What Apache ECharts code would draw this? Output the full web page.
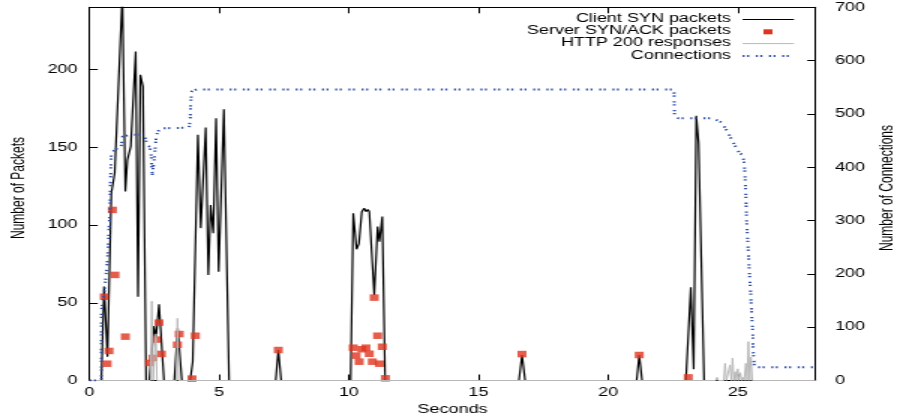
<!DOCTYPE html>
<html><head><meta charset="utf-8">
<script src="https://cdn.jsdelivr.net/npm/echarts@6/dist/echarts.min.js"></script>
<style>
html,body{margin:0;padding:0;background:#fff;overflow:hidden;}
#wrap{width:900px;height:420px;overflow:hidden;}
#chart{width:600px;height:420px;transform:scaleX(1.5);transform-origin:0 0;}
</style></head>
<body><div id="wrap"><div id="chart"></div></div>
<script>
// ---- data (time in seconds) ----
const xTickLabels = [0, 5, 10, 15, 20, 25];
const leftTickLabels = [0, 50, 100, 150, 200];
const rightTickLabels = [0, 100, 200, 300, 400, 500, 600, 700];
const seriesNames = ['Client SYN packets', 'Server SYN/ACK packets', 'HTTP 200 responses', 'Connections'];

const clientSyn = [[0,0],[0.455,0],[0.56,60.4],[0.69,15.3],[0.84,120.4],[0.97,133.3],[1.265,248],[1.38,121.5],[1.46,141.9],[1.59,150.5],[1.68,150.5],[1.78,211.6],[1.87,53.9],[1.96,196.6],[2.06,189],[2.18,0],[2.3,0],[2.49,35],[2.56,27],[2.68,49],[2.87,0],[3.27,0],[3.40,33.8],[3.56,0],[3.88,0],[3.98,12.1],[4.18,158],[4.29,98],[4.48,162.7],[4.58,67.9],[4.67,112.9],[4.77,94.7],[4.88,168.7],[4.98,70],[5.08,70],[5.18,174.5],[5.38,0],[7.18,0],[7.28,19.6],[7.39,0],[10.07,0],[10.17,107.6],[10.30,84.4],[10.39,88],[10.50,108.6],[10.59,110.8],[10.66,108.6],[10.73,110],[10.79,108.6],[10.98,55],[11.11,99],[11.18,89.3],[11.29,105.4],[11.40,0],[16.56,0],[16.68,16.4],[16.8,0],[21.1,0],[21.2,16.4],[21.31,0],[23.0,0],[23.19,60],[23.30,7.2],[23.40,170.2],[23.49,152.6],[23.70,0],[28,0]];

const serverSynAck = [[0.57,53.9],[0.675,10.8],[0.75,19],[0.88,109.7],[0.98,67.9],[1.38,28.2],[2.32,11.3],[2.45,14.5],[2.58,26.3],[2.68,37.2],[2.77,17.1],[3.39,23],[3.46,29.9],[3.95,1.2],[4.08,28.8],[7.28,19.6],[10.17,21.1],[10.28,16],[10.40,12.1],[10.50,20.1],[10.66,21.1],[10.79,17.2],[10.91,12.1],[10.98,53.3],[11.11,28.8],[11.18,10.8],[11.29,21.7],[11.41,1.4],[16.68,17],[21.2,16.4],[23.09,2]];

const http200 = [[0,0],[2.35,0],[2.40,51],[2.45,0],[2.52,0],[2.56,30],[2.60,0],[3.35,0],[3.39,40],[3.43,0],[24.15,0],[24.2,2],[24.25,0],[24.46,0],[24.51,11],[24.56,0],[24.65,0],[24.7,10],[24.75,0],[24.8,14.5],[24.85,0],[24.9,5.7],[24.95,0],[25.0,7.5],[25.05,0],[25.1,5],[25.15,0],[25.2,2],[25.25,0],[25.31,11],[25.36,0],[25.41,25],[25.46,0],[25.51,15],[25.56,0],[28,0]];

const connections = [[0,0],[0.455,0],[0.455,132],[0.56,160],[0.69,226],[0.78,314],[0.81,382],[0.84,427],[1.07,436],[1.21,436],[1.265,457],[1.55,461],[2.0,461],[2.14,457],[2.21,442],[2.33,438],[2.38,420],[2.42,385.5],[2.49,414],[2.58,461],[2.71,473],[3.68,474],[3.84,474],[3.88,489],[3.9,520],[3.94,542],[4.13,546],[22.54,546],[22.56,495],[22.71,492],[24.0,492],[24.12,490],[24.38,484],[24.6,467],[24.83,446],[25.06,427],[25.19,423],[25.25,407.5],[25.28,382],[25.31,351],[25.34,301],[25.41,239],[25.45,201],[25.5,164],[25.54,120],[25.58,89],[25.6,51],[25.64,25],[28,25]];

// ---- styles ----
const FONT = '"Liberation Sans", Arial, Helvetica, sans-serif';
const BLACK = '#000';
const RED = '#e0341f';
const GRAY = '#b8b8b8';
const BLUE = '#2c4ca8';
const DOTS = [1.3, 1.7, 1.3, 4.5];

const chart = echarts.init(document.getElementById('chart'), null, {renderer: 'canvas'});
const axisLine = {show: true, onZero: false, lineStyle: {color: BLACK, width: 1}};
const lbl = {color: BLACK, fontFamily: FONT, fontSize: 12};

function legendRow(i, y, sample) {
  return [{type: 'text', x: 487.3, y: y, z: 100,
    style: {text: seriesNames[i], font: '12px ' + FONT, fill: BLACK,
      align: 'right', textAlign: 'right', verticalAlign: 'middle', textVerticalAlign: 'middle'}}].concat(sample);
}

const option = {
  animation: false,
  backgroundColor: '#fff',
  grid: {left: 59.7, right: 56.3, top: 7.3, bottom: 39.5, containLabel: false, outerBoundsMode: 'none'},
  xAxis: [
    {type: 'value', min: 0, max: 28, interval: 5, position: 'bottom', axisLine: axisLine,
      axisTick: {show: true, inside: true, length: 6, lineStyle: {color: BLACK}},
      axisLabel: Object.assign({showMaxLabel: false, margin: 6,
        formatter: v => xTickLabels.indexOf(v) >= 0 ? String(v) : ''}, lbl),
      splitLine: {show: false}},
    {type: 'value', min: 0, max: 28, interval: 5, position: 'top', axisLine: axisLine,
      axisTick: {show: true, inside: true, length: 6, lineStyle: {color: BLACK}},
      axisLabel: {show: false}, splitLine: {show: false}}
  ],
  yAxis: [
    {type: 'value', min: 0, max: 240, interval: 50, position: 'left', axisLine: axisLine,
      axisTick: {show: true, inside: true, length: 5.5, lineStyle: {color: BLACK}},
      axisLabel: Object.assign({showMaxLabel: false, margin: 8,
        formatter: v => leftTickLabels.indexOf(v) >= 0 ? String(v) : ''}, lbl),
      splitLine: {show: false}},
    {type: 'value', min: 0, max: 700, interval: 100, position: 'right', axisLine: axisLine,
      axisTick: {show: true, inside: true, length: 5.5, lineStyle: {color: BLACK}},
      axisLabel: Object.assign({margin: 13,
        formatter: v => rightTickLabels.indexOf(v) >= 0 ? String(v) : ''}, lbl),
      splitLine: {show: false}}
  ],
  series: [
    {name: seriesNames[0], type: 'line', data: clientSyn, xAxisIndex: 0, yAxisIndex: 0,
      showSymbol: false, symbol: 'none', clip: true,
      lineStyle: {color: BLACK, width: 1.2}, z: 2},
    {name: seriesNames[1], type: 'scatter', data: serverSynAck, xAxisIndex: 0, yAxisIndex: 0,
      symbol: 'rect', symbolSize: [6, 6.5], itemStyle: {color: RED}, z: 3},
    {name: seriesNames[2], type: 'line', data: http200, xAxisIndex: 0, yAxisIndex: 0,
      showSymbol: false, symbol: 'none', lineStyle: {color: GRAY, width: 1}, z: 4},
    {name: seriesNames[3], type: 'line', data: connections, xAxisIndex: 0, yAxisIndex: 1,
      showSymbol: false, symbol: 'none', lineStyle: {color: BLUE, width: 2, type: DOTS}, z: 5}
  ],
  graphic: [].concat(
    legendRow(0, 18.5, [{type: 'line', z: 100, shape: {x1: 495.1, y1: 19.5, x2: 529.3, y2: 19.5}, style: {stroke: BLACK, lineWidth: 1.2}}]),
    legendRow(1, 30.8, [{type: 'rect', z: 100, shape: {x: 509, y: 29.3, width: 6, height: 5}, style: {fill: RED}}]),
    legendRow(2, 43.1, [{type: 'line', z: 100, shape: {x1: 495.1, y1: 43.6, x2: 529.3, y2: 43.6}, style: {stroke: GRAY, lineWidth: 1}}]),
    legendRow(3, 55.4, [{type: 'line', z: 100, shape: {x1: 495.1, y1: 56, x2: 529.3, y2: 56}, style: {stroke: BLUE, lineWidth: 2, lineDash: DOTS}}]),
    [
      {type: 'text', x: 12.2, y: 188, rotation: Math.PI / 2,
        style: {text: 'Number of Packets', font: '12px ' + FONT, fill: BLACK,
          align: 'center', textAlign: 'center', verticalAlign: 'middle', textVerticalAlign: 'middle'}},
      {type: 'text', x: 592, y: 188, rotation: Math.PI / 2,
        style: {text: 'Number of Connections', font: '12px ' + FONT, fill: BLACK,
          align: 'center', textAlign: 'center', verticalAlign: 'middle', textVerticalAlign: 'middle'}},
      {type: 'text', x: 301.7, y: 410, 
        style: {text: 'Seconds', font: '12px ' + FONT, fill: BLACK,
          align: 'center', textAlign: 'center', verticalAlign: 'middle', textVerticalAlign: 'middle'}}
    ]
  )
};
chart.setOption(option);
</script>
</body></html>
